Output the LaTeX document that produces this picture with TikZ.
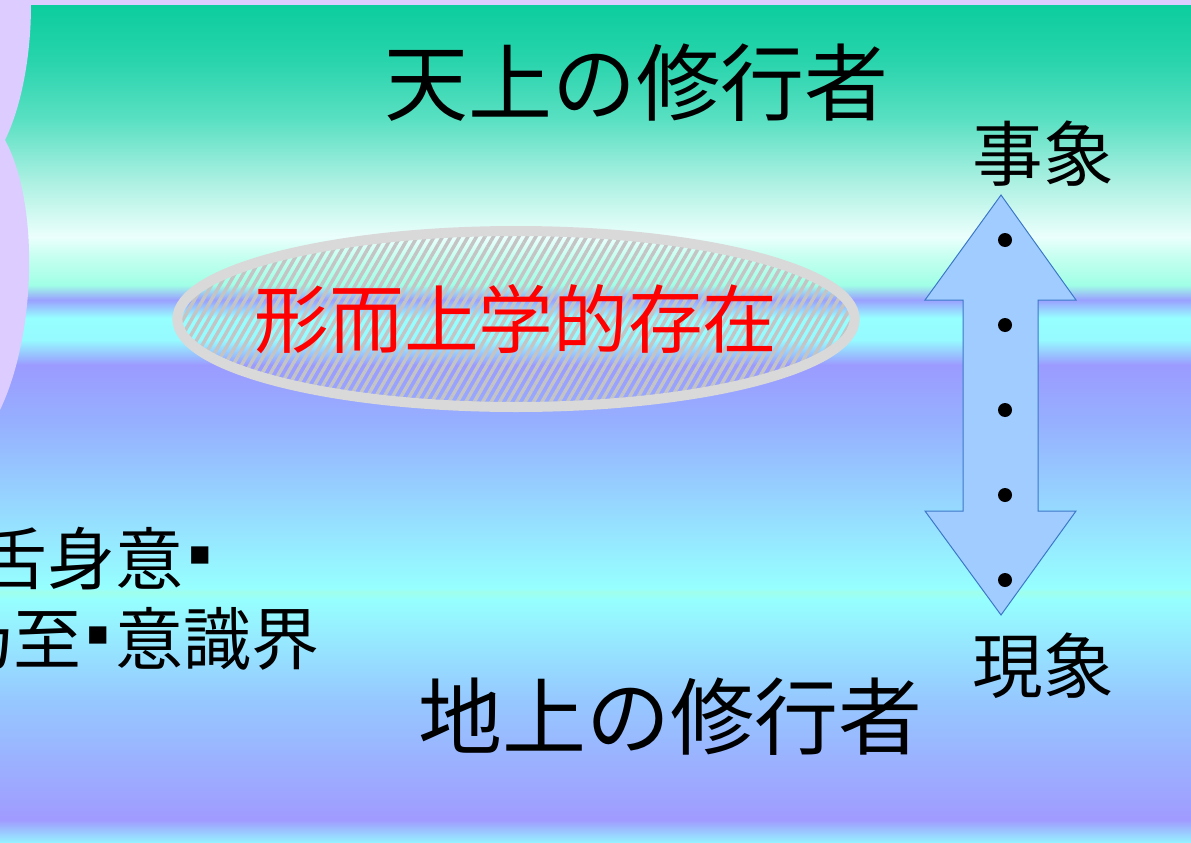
\documentclass[tikz,border=0pt]{standalone}
\usepackage{fontspec}
\setmainfont{Noto Sans CJK JP}
\newfontfamily\symfont{DejaVu Sans}
\usetikzlibrary{shapes.geometric, patterns.meta}

\definecolor{lilac}{RGB}{220,204,255}
\definecolor{ovalgray}{RGB}{217,217,217}
\definecolor{hatchgray}{RGB}{196,196,196}
\definecolor{arrowfill}{RGB}{160,204,255}
\definecolor{arrowline}{RGB}{60,120,200}
% colour stops of the sky, from the bottom up
\definecolor{s842}{RGB}{150,240,255}
\definecolor{s820}{RGB}{160,155,255}
\definecolor{s700}{RGB}{150,200,255}
\definecolor{s600}{RGB}{150,255,255}
\definecolor{s592}{RGB}{160,255,235}
\definecolor{s588}{RGB}{150,255,255}
\definecolor{s420}{RGB}{150,175,255}
\definecolor{s365}{RGB}{155,155,255}
\definecolor{s340}{RGB}{150,250,255}
\definecolor{s318}{RGB}{150,255,255}
\definecolor{s300}{RGB}{154,160,255}
\definecolor{s285}{RGB}{160,255,230}
\definecolor{s255}{RGB}{200,255,240}
\definecolor{s237}{RGB}{235,255,252}
\definecolor{s180}{RGB}{170,240,225}
\definecolor{s120}{RGB}{90,224,195}
\definecolor{s060}{RGB}{40,212,172}
\definecolor{s005}{RGB}{12,205,158}

\pgfdeclareverticalshading{sky}{100bp}{
  color(0bp)=(s842); color(25bp)=(s842);
  color(26.31bp)=(s820); color(33.43bp)=(s700);
  color(39.37bp)=(s600); color(39.85bp)=(s592); color(40.08bp)=(s588);
  color(50.06bp)=(s420); color(53.33bp)=(s365); color(54.81bp)=(s340);
  color(56.12bp)=(s318); color(57.19bp)=(s300); color(58.08bp)=(s285);
  color(59.86bp)=(s255); color(60.93bp)=(s237); color(64.31bp)=(s180);
  color(67.87bp)=(s120); color(71.44bp)=(s060); color(74.70bp)=(s005);
  color(75bp)=(s005); color(100bp)=(s005)}

% square middle dot
\newcommand{\sqdot}{\makebox[0.5em]{\raisebox{0.3em}{\symfont\fontsize{26}{26}\selectfont ▪}}}

\begin{document}
\begin{tikzpicture}[x=0.75pt, y=-0.75pt,
  title/.style={font=\fontsize{63}{70}\selectfont, inner sep=0},
  side/.style={font=\fontsize{53}{60}\selectfont, inner sep=0},
  sutra/.style={font=\fontsize{51}{58}\selectfont, inner sep=0, anchor=west},
  metaoval/.style={ellipse, draw=ovalgray, line width=7.5pt,
    pattern={Lines[angle=60, distance=5.5pt, line width=2.6pt]},
    pattern color=hatchgray, minimum width=508pt, minimum height=132pt,
    inner sep=0},
  metatext/.style={text=red, font=\fontsize{56}{62}\selectfont},
  spot/.style={circle, fill=black, inner sep=0, minimum size=10.5pt}]

\useasboundingbox (0,0) rectangle (1191,842);
\clip (0,0) rectangle (1191,842);

% background
\shade[shading=sky] (0,0) rectangle (1191,842);
\fill[lilac] (0,0) -- (1191,0) -- (1191,5) -- (31,5)
  .. controls (31,60) and (20,110) .. (5,140)
  .. controls (38,200) and (38,330) .. (0,410) -- cycle;

% titles
\node[title] (heaven) at (636,83) {天上の修行者};
\node[title] (earth) at (670,717) {地上の修行者};

% the oval
\node[metaoval, label={[metatext]center:形而上学的存在}] (meta) at (516,319) {};

% scale between the two
\filldraw[fill=arrowfill, draw=arrowline, line width=0.75pt]
  (1001,195) -- (1076,300) -- (1038,300) -- (1038,511) -- (1076,511)
  -- (1001,615) -- (925,511) -- (963,511) -- (963,300) -- (925,300) -- cycle;
\foreach \y [count=\i] in {240,325,410,495,580}
  \node[spot] (dot\i) at (1005,\y) {};
\node[side] (event) at (1043,154) {事象};
\node[side] (phenom) at (1043,666) {現象};

% sutra lines
\node[sutra] (lineA) at (-21,559) {舌身意\sqdot};
\node[sutra] (lineB) at (-55,639) {乃至\sqdot 意識界};
\end{tikzpicture}
\end{document}
